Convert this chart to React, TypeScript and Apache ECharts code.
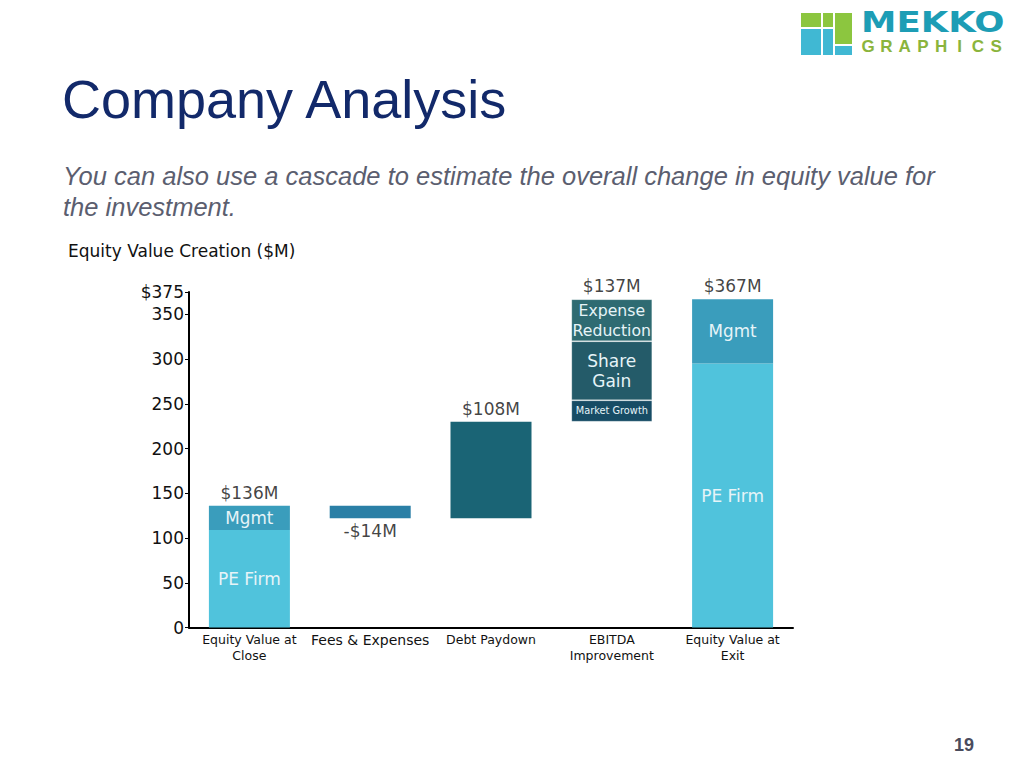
import React, { useEffect, useRef } from 'react';
import * as echarts from 'echarts';

const categories = ['Equity Value at\nClose', 'Fees & Expenses', 'Debt Paydown', 'EBITDA\nImprovement', 'Equity Value at\nExit'];
const kinds = ['total', 'delta', 'delta', 'delta', 'total'];
const peFirm = [109, null, null, null, 295];
const mgmt = [27, null, null, null, 72];
const feesExpenses = [null, -14, null, null, null];
const debtPaydown = [null, null, 108, null, null];
const marketGrowth = [null, null, null, 24, null];
const shareGain = [null, null, null, 66, null];
const expenseReduction = [null, null, null, 47, null];
const yTicks = [0, 50, 100, 150, 200, 250, 300, 350, 375];

const allParts = [peFirm, mgmt, feesExpenses, debtPaydown, marketGrowth, shareGain, expenseReduction];

function buildWaterfall() {
  const base: number[] = [];
  const sums: number[] = [];
  const labelY: number[] = [];
  let running = 0;
  categories.forEach((_, i) => {
    const s = allParts.reduce((acc, arr) => acc + (arr[i] ?? 0), 0);
    sums.push(s);
    if (kinds[i] === 'total') {
      base.push(0);
      running = s;
      labelY.push(s);
    } else if (s >= 0) {
      base.push(running);
      running += s;
      labelY.push(running);
    } else {
      running += s;
      base.push(running);
      labelY.push(running);
    }
  });
  return { base, sums, labelY };
}

const fmt = (v: number) => (v < 0 ? '-$' + Math.abs(v) + 'M' : '$' + v + 'M');
const abs = (arr: (number | null)[]) => arr.map((v) => (v == null ? '-' : Math.abs(v)));

export default function App() {
  const ref = useRef<HTMLDivElement>(null);
  useEffect(() => {
    if (!ref.current) return;
    const chart = echarts.init(ref.current, undefined, { renderer: 'svg' });
    const { base, sums, labelY } = buildWaterfall();
    const inLabel = (text: string, size: number, extra: any = {}) => ({
      show: true,
      position: 'inside',
      formatter: text,
      color: '#e6f4f8',
      fontSize: size,
      fontFamily: 'DejaVu Sans',
      ...extra,
    });
    const seg = { borderColor: 'rgba(255,255,255,0.22)', borderWidth: 1 };
    const letters = 'GRAPHICS'.split('');
    const option: any = {
      animation: false,
      grid: { left: 189, top: 292, width: 604, height: 335.5 },
      xAxis: {
        type: 'category',
        data: categories,
        axisLine: { lineStyle: { color: '#000', width: 2 } },
        axisTick: { show: false },
        axisLabel: {
          interval: 0,
          color: '#111',
          fontSize: 12.5,
          lineHeight: 16,
          margin: 4,
          fontFamily: 'DejaVu Sans',
          formatter: (v: string) => (v === 'Fees & Expenses' ? '{b|' + v + '}' : v),
          rich: { b: { fontSize: 14, fontFamily: 'DejaVu Sans', color: '#111' } },
        },
      },
      yAxis: {
        type: 'value',
        min: 0,
        max: 375,
        interval: 50,
        axisLine: { show: true, lineStyle: { color: '#000', width: 2 } },
        axisTick: { show: true, length: 4, customValues: yTicks, lineStyle: { color: '#000' } },
        axisLabel: {
          customValues: yTicks,
          formatter: (v: number) => (v === 375 ? '$375' : String(v)),
          fontSize: 17,
          color: '#111',
          margin: 5,
          fontFamily: 'DejaVu Sans',
        },
        splitLine: { show: false },
      },
      series: [
        { type: 'bar', stack: 'w', barWidth: 81, data: base, itemStyle: { color: 'transparent' }, silent: true },
        { name: 'PE Firm', type: 'bar', stack: 'w', data: abs(peFirm), itemStyle: { color: '#50c3dc' }, label: inLabel('PE Firm', 17) },
        { name: 'Mgmt', type: 'bar', stack: 'w', data: abs(mgmt), itemStyle: { color: '#3a9dbc' }, label: inLabel('Mgmt', 16.8) },
        { name: 'Fees & Expenses', type: 'bar', stack: 'w', data: abs(feesExpenses), itemStyle: { color: '#2a7fa6' } },
        { name: 'Debt Paydown', type: 'bar', stack: 'w', data: abs(debtPaydown), itemStyle: { color: '#1a6475' } },
        { name: 'Market Growth', type: 'bar', stack: 'w', data: abs(marketGrowth), itemStyle: { color: '#174c65', ...seg }, label: inLabel('Market Growth', 9.8) },
        { name: 'Share Gain', type: 'bar', stack: 'w', data: abs(shareGain), itemStyle: { color: '#245b69', ...seg }, label: inLabel('Share\nGain', 17, { lineHeight: 20 }) },
        { name: 'Expense Reduction', type: 'bar', stack: 'w', data: abs(expenseReduction), itemStyle: { color: '#2e6b72', ...seg }, label: inLabel('Expense\nReduction', 15.7, { lineHeight: 20 }) },
        {
          type: 'scatter',
          symbolSize: 1,
          itemStyle: { color: 'transparent' },
          silent: true,
          data: labelY.map((y, i) => ({
            value: [i, y],
            label: {
              show: true,
              position: sums[i] < 0 ? 'bottom' : 'top',
              distance: 4,
              formatter: fmt(sums[i]),
              fontSize: 17,
              color: '#111',
              fontFamily: 'DejaVu Sans',
            },
          })),
        },
      ],
      graphic: [
        { type: 'rect', shape: { x: 801, y: 13, width: 20, height: 14 }, style: { fill: '#8cc63f' } },
        { type: 'rect', shape: { x: 823, y: 13, width: 10, height: 14 }, style: { fill: '#8cc63f' } },
        { type: 'rect', shape: { x: 835, y: 13, width: 17, height: 31 }, style: { fill: '#8cc63f' } },
        { type: 'rect', shape: { x: 801, y: 29, width: 20, height: 26 }, style: { fill: '#40b8d3' } },
        { type: 'rect', shape: { x: 823, y: 29, width: 10, height: 26 }, style: { fill: '#40b8d3' } },
        { type: 'rect', shape: { x: 835, y: 46, width: 17, height: 9 }, style: { fill: '#40b8d3' } },
        {
          type: 'text', x: 861, y: 8, scaleX: 1.27,
          style: { text: 'MEKKO', fontSize: 28, fontWeight: 'bold', fontFamily: 'DejaVu Sans', fill: '#1d9db5' },
        },
        ...letters.map((ch, i) => ({
          type: 'text', x: 868 + i * 18.3, y: 38,
          style: { text: ch, fontSize: 17, fontWeight: 'bold', fontFamily: 'Liberation Sans', fill: '#8ab43c', align: 'center' },
        })),
        {
          type: 'text', x: 62, y: 72,
          style: { text: 'Company Analysis', fontSize: 54, fontFamily: 'Liberation Sans', fill: '#12296a' },
        },
        {
          type: 'text', x: 63, y: 160,
          style: {
            text: 'You can also use a cascade to estimate the overall change in equity value for\nthe investment.',
            fontSize: 25.5, fontStyle: 'italic', fontFamily: 'Liberation Sans', fill: '#5b5e6f', lineHeight: 31,
          },
        },
        {
          type: 'text', x: 68, y: 242,
          style: { text: 'Equity Value Creation ($M)', fontSize: 17, fontFamily: 'DejaVu Sans', fill: '#111' },
        },
        {
          type: 'text', x: 954, y: 736,
          style: { text: '19', fontSize: 18, fontWeight: 'bold', fontFamily: 'Liberation Sans', fill: '#4a4b5c' },
        },
      ],
    };
    chart.setOption(option);
    return () => chart.dispose();
  }, []);
  return <div ref={ref} style={{ position: 'fixed', left: 0, top: 0, width: 1024, height: 768, background: '#fff' }} />;
}
